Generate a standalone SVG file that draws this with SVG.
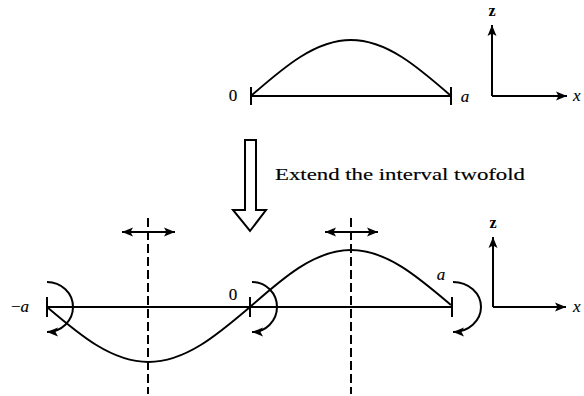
<svg xmlns="http://www.w3.org/2000/svg" width="584" height="396" viewBox="0 0 584 396">
<defs>
<marker id="ah" markerUnits="userSpaceOnUse" markerWidth="12" markerHeight="10" refX="11" refY="5" orient="auto-start-reverse">
<path d="M0,0.5 L11,5 L0,9.5 L2.5,5 Z" fill="#000"/>
</marker>
<style>
.ln{stroke:#000;stroke-width:2;fill:none}
.cv{stroke:#000;stroke-width:1.9;fill:none}
.ds{stroke:#000;stroke-width:2;fill:none;stroke-dasharray:9,4}
.t{font-family:"Liberation Serif","DejaVu Serif",serif;font-size:17px;fill:#000;stroke:#000;stroke-width:0.15}
.i{font-style:italic}
.z{font-family:"Liberation Serif","DejaVu Serif",serif;font-size:16px;font-weight:bold;fill:#000}
</style>
</defs>
<rect width="584" height="396" fill="#fff"/>

<g id="top-interval">
<line class="ln" x1="251" y1="96" x2="451" y2="96"/>
<line class="ln" x1="251" y1="87" x2="251" y2="105"/>
<line class="ln" x1="451" y1="87" x2="451" y2="105"/>
<path class="cv" d="M252,95 C284.2,66.9 315.4,40 351,40 C386.6,40 417.8,66.9 450,95"/>
<text class="t" x="233" y="101" text-anchor="middle">0</text>
<text class="t i" x="465" y="102" text-anchor="middle">a</text>
</g>

<g id="top-axes">
<line class="ln" x1="492" y1="96" x2="492" y2="25" marker-end="url(#ah)"/>
<line class="ln" x1="492" y1="96" x2="567" y2="96" marker-end="url(#ah)"/>
<text class="z" x="492" y="16" text-anchor="middle">z</text>
<text class="t i" x="573" y="101">x</text>
</g>

<g id="extend-arrow">
<polygon points="245,140 256,140 256,210 266,210 250,231 233,210 245,210" fill="#fff" stroke="#000" stroke-width="2" stroke-linejoin="miter"/>
<text class="t" x="275" y="180" font-size="18" textLength="250" lengthAdjust="spacingAndGlyphs">Extend the interval twofold</text>
</g>

<g id="bottom-interval">
<line class="ln" x1="47" y1="307" x2="452" y2="307"/>
<line class="ln" x1="47" y1="297" x2="47" y2="317"/>
<line class="ln" x1="250" y1="297" x2="250" y2="317"/>
<line class="ln" x1="452" y1="297" x2="452" y2="317"/>
<path class="cv" d="M47,307 C79.9,335.1 111.8,362 148.5,362 C185.2,362 217.1,335.1 250,307 C282.9,277.9 314.8,250 351,250 C387.2,250 419.1,277.9 451,305"/>
<text class="t" x="11" y="312">−<tspan class="i">a</tspan></text>
<text class="t" x="233" y="300" text-anchor="middle">0</text>
<text class="t i" x="441" y="280" text-anchor="middle">a</text>
</g>

<g id="connectors">
<line class="ds" x1="148" y1="218" x2="148" y2="394"/>
<line class="ds" x1="351" y1="218" x2="351" y2="394"/>
<line class="ln" x1="122" y1="232" x2="175" y2="232" marker-start="url(#ah)" marker-end="url(#ah)"/>
<line class="ln" x1="325" y1="232" x2="378" y2="232" marker-start="url(#ah)" marker-end="url(#ah)"/>
<path class="ln" d="M47,282 A26,25 0 0 1 47,332" marker-end="url(#ah)"/>
<path class="ln" d="M252,282 A25,25 0 0 1 252,332" marker-end="url(#ah)"/>
<path class="ln" d="M453,282 A28,25 0 0 1 453,332" marker-end="url(#ah)"/>
</g>

<g id="bottom-axes">
<line class="ln" x1="493" y1="307" x2="493" y2="237" marker-end="url(#ah)"/>
<line class="ln" x1="493" y1="307" x2="566" y2="307" marker-end="url(#ah)"/>
<text class="z" x="493" y="228" text-anchor="middle">z</text>
<text class="t i" x="573" y="312">x</text>
</g>
</svg>
